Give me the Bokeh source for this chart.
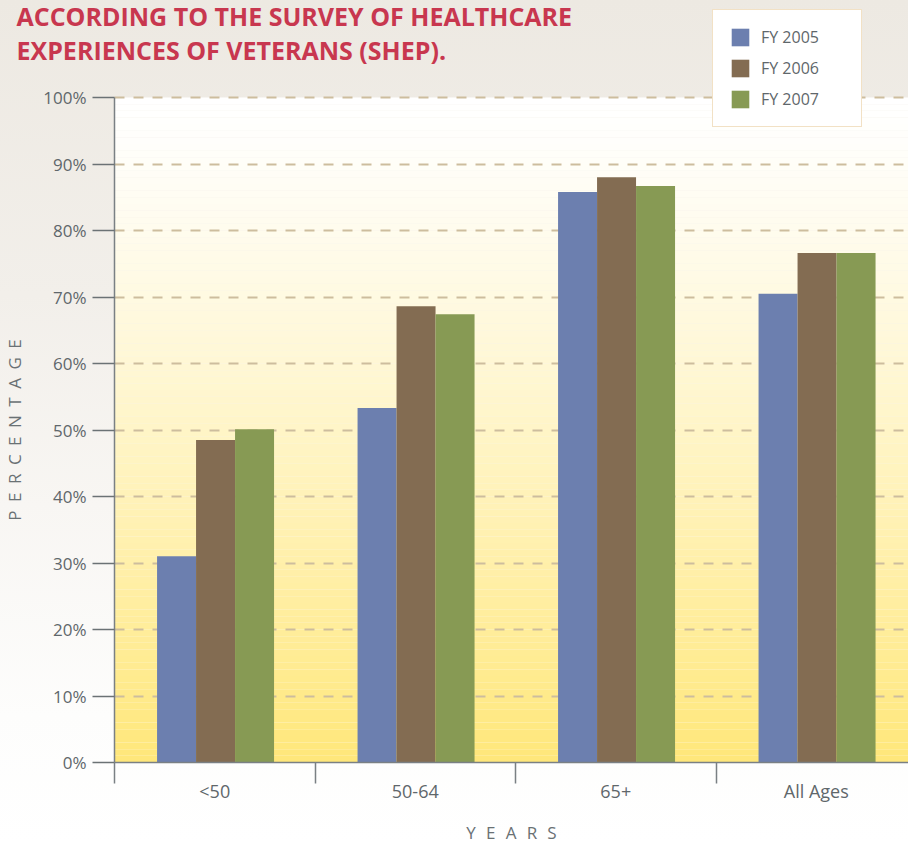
import numpy as np
from bokeh.plotting import figure
from bokeh.models import FixedTicker, Legend, LegendItem, Range1d, Label
from bokeh.embed import file_html
from bokeh.resources import INLINE

# ---- data ----
categories = ["<50", "50-64", "65+", "All Ages"]
series = ["FY 2005", "FY 2006", "FY 2007"]
fy2005 = [31.0, 53.3, 85.8, 70.5]
fy2006 = [48.5, 68.6, 88.0, 76.6]
fy2007 = [50.1, 67.4, 86.7, 76.6]
y_ticks = [0, 10, 20, 30, 40, 50, 60, 70, 80, 90, 100]
y_tick_labels = [f"{v}%" for v in y_ticks]
title_text = "ACCORDING TO THE SURVEY OF HEALTHCARE\nEXPERIENCES OF VETERANS (SHEP)."

colors = ["#6C7FAF", "#836C52", "#879A54"]
FONT = "Open Sans"
TXT = "#5F676B"

W, H = 908, 842
# pixel layout of the plotting area inside the canvas
X0_PX, CAT_PX = 114, 200.5          # y-axis position, width of one category
Y0_PX, Y100_PX = 762, 97            # pixel rows of 0% and 100%
PPU = (Y0_PX - Y100_PX) / 100.0

p = figure(width=W, height=H, output_backend="svg", toolbar_location=None,
           x_range=Range1d(-X0_PX / CAT_PX, (W - X0_PX) / CAT_PX),
           y_range=Range1d(-(H - Y0_PX) / PPU, 100 + Y100_PX / PPU),
           min_border=0, min_border_left=0, min_border_right=0,
           min_border_top=0, min_border_bottom=0)
p.title.visible = False
p.border_fill_color = None
p.background_fill_color = None
p.outline_line_color = None
p.styles = {"background": "linear-gradient(to bottom, #EDE9E2 0%, #F2EFEA 35%, #F8F6F3 60%, #FDFDFC 85%, #FFFFFF 100%)"}

# ---- plot-area gradient (white top -> yellow bottom) ----
edges = np.linspace(0, 100, 101)
bcols = []
for lo in edges[:-1]:
    t = 1 - (lo + 0.5) / 100.0
    t = max(0.0, min(1.0, t)) ** 1.25
    g = int(round(255 - t * (255 - 231)))
    b = int(round(255 - t * (255 - 122)))
    bcols.append(f"#FF{g:02X}{b:02X}")
p.quad(left=0, right=4.2, bottom=edges[:-1], top=edges[1:], fill_color=bcols,
       line_color=None, level="image")

# ---- bars ----
xc = np.arange(len(categories)) + 0.5
bw = 0.1945
offsets = [-bw, 0.0, bw]
renderers = []
for vals, col, off in zip([fy2005, fy2006, fy2007], colors, offsets):
    r = p.vbar(x=xc + off + 0.004, top=vals, width=bw, fill_color=col, line_color=None)
    renderers.append(r)

# ---- title (inside the canvas frame) ----
p.add_layout(Label(x=(16 - X0_PX) / CAT_PX, y=(Y0_PX + 2) / PPU, text=title_text,
                   text_color="#C8374F", text_font=FONT, text_font_size="25px",
                   text_font_style="bold", text_align="left", text_baseline="top",
                   text_line_height=1.0))

# ---- axes ----
xa = p.xaxis[0]
xa.fixed_location = 0
xa.bounds = (0, 4)
xa.ticker = FixedTicker(ticks=list(xc), minor_ticks=[0, 1, 2, 3, 4])
xa.major_label_overrides = {float(x): c for x, c in zip(xc, categories)}
xa.major_tick_out = 0
xa.major_tick_in = 0
xa.minor_tick_out = 21
xa.minor_tick_in = 0
xa.minor_tick_line_color = "#7A8084"
xa.minor_tick_line_width = 1.5
xa.axis_line_color = "#7A8084"
xa.axis_line_width = 1.5
xa.major_label_standoff = -5
xa.major_label_text_font = FONT
xa.major_label_text_font_size = "18px"
xa.major_label_text_color = TXT
xa.axis_label = "\u2002\u200a".join("YEARS")
xa.axis_label_text_font = FONT
xa.axis_label_text_font_size = "17px"
xa.axis_label_text_font_style = "normal"
xa.axis_label_text_color = "#6A7174"
xa.axis_label_standoff = 15

ya = p.yaxis[0]
ya.fixed_location = 0
ya.bounds = (0, 100)
ya.ticker = FixedTicker(ticks=y_ticks, minor_ticks=[])
ya.major_label_overrides = {v: l for v, l in zip(y_ticks, y_tick_labels)}
ya.major_tick_out = 22
ya.major_tick_in = 0
ya.major_tick_line_color = "#6B7275"
ya.major_tick_line_width = 1.5
ya.minor_tick_out = 0
ya.minor_tick_in = 0
ya.axis_line_color = "#7A8084"
ya.axis_line_width = 1.5
ya.major_label_standoff = 6
ya.major_label_text_font = FONT
ya.major_label_text_font_size = "17px"
ya.major_label_text_color = TXT
ya.axis_label = "\u2002".join("PERCENTAGE")
ya.axis_label_text_font = FONT
ya.axis_label_text_font_size = "17px"
ya.axis_label_text_font_style = "normal"
ya.axis_label_text_color = "#6A7174"
ya.axis_label_standoff = 14

# ---- grid ----
p.xgrid.visible = False
grid = p.ygrid[0]
grid.ticker = FixedTicker(ticks=y_ticks[1:])
grid.grid_line_color = "#CDBD9E"
grid.grid_line_width = 2
grid.grid_line_dash = "10 9"
try:
    grid.cross_bounds = (0, 4.2)
except Exception:
    grid.visible = False
    p.segment(x0=0, x1=4.2, y0=y_ticks[1:], y1=y_ticks[1:], line_color="#CDBD9E",
              line_width=2, line_dash="10 9", level="underlay")

# ---- legend ----
legend = Legend(items=[LegendItem(label=s, renderers=[r]) for s, r in zip(series, renderers)],
                location=(712, H - 127), orientation="vertical",
                glyph_width=22, glyph_height=22, label_height=22, spacing=9,
                padding=16, margin=0, label_standoff=10, label_width=84,
                label_text_font=FONT, label_text_font_size="16px", label_text_color=TXT,
                border_line_color="#E6C38C", border_line_width=1.5,
                background_fill_color="#FFFFFF", background_fill_alpha=1.0)
p.add_layout(legend, "center")

open("out.html", "w").write(file_html(p, INLINE))
